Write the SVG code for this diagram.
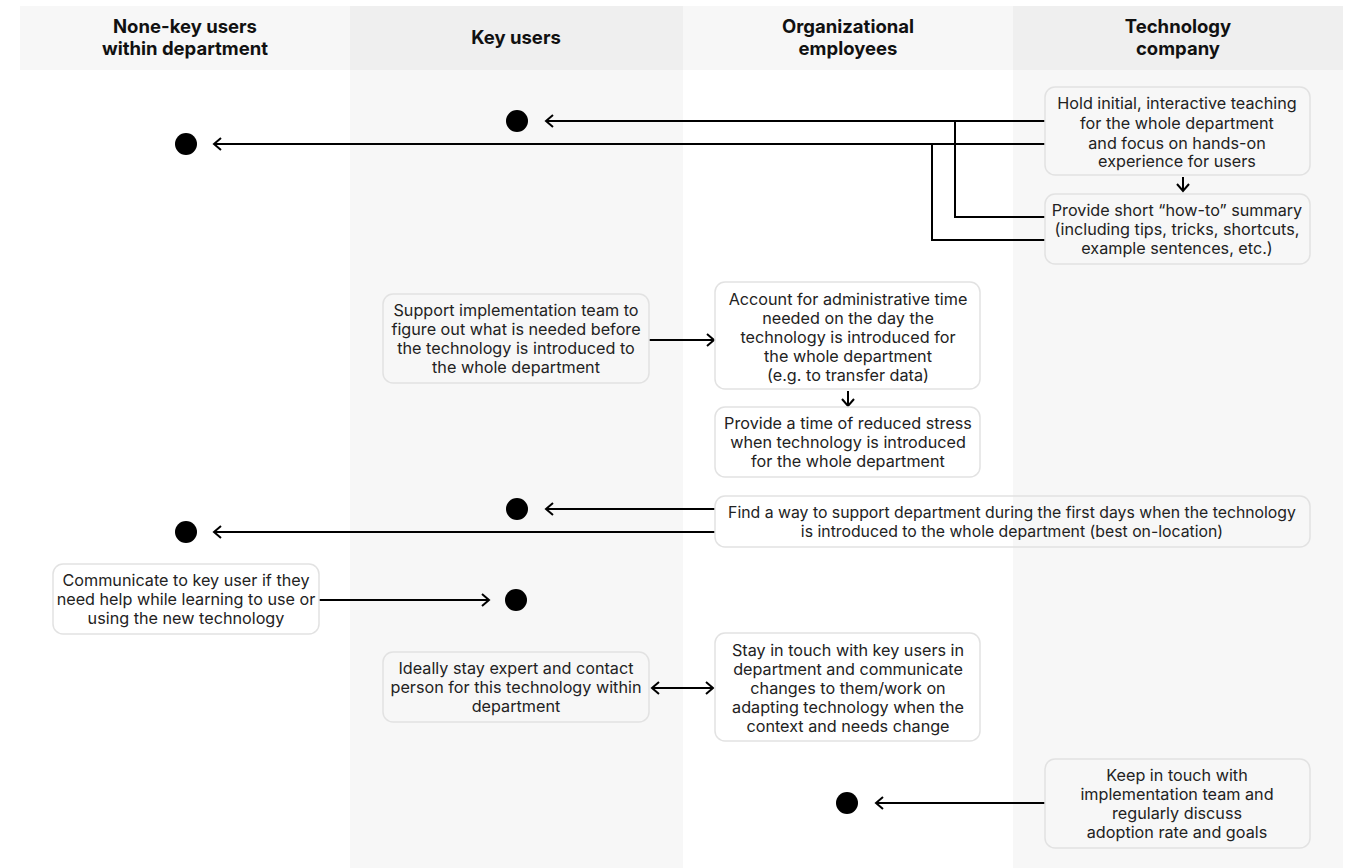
<svg xmlns="http://www.w3.org/2000/svg" width="1353" height="868" viewBox="0 0 1353 868">
<defs>
<style>
.hd{font-family:Inter,"Liberation Sans",sans-serif;font-weight:700;font-size:18.5px;fill:#111;text-anchor:middle}
.t{font-family:Inter,"Liberation Sans",sans-serif;font-size:16.2px;fill:#222;text-anchor:middle}
.w{font-size:15.8px}
.box{fill:none;stroke:#e2e2e2;stroke-width:1.5}
.c{fill:none;stroke:#000;stroke-width:2}
.dot{fill:#000}
</style>
<marker id="ah" viewBox="-10 -8 20 16" markerWidth="20" markerHeight="16" markerUnits="userSpaceOnUse" refX="0" refY="0" orient="auto-start-reverse">
<path d="M-7,-6 L0,0 L-7,6" fill="none" stroke="#000" stroke-width="2"/>
</marker>
</defs>
<rect x="0" y="0" width="1353" height="868" fill="#fff"/>
<g id="lanes">
<rect x="350" y="70" width="333" height="798" fill="#f7f7f7"/>
<rect x="1013" y="70" width="330" height="798" fill="#f7f7f7"/>
<rect x="20" y="6" width="330" height="64" fill="#f7f7f7"/>
<rect x="350" y="6" width="333" height="64" fill="#efefef"/>
<rect x="683" y="6" width="330" height="64" fill="#f7f7f7"/>
<rect x="1013" y="6" width="330" height="64" fill="#efefef"/>
<text class="hd" x="185" y="33">None-key users</text>
<text class="hd" x="185" y="55">within department</text>
<text class="hd" x="516" y="44">Key users</text>
<text class="hd" x="848" y="33">Organizational</text>
<text class="hd" x="848" y="55">employees</text>
<text class="hd" x="1178" y="33">Technology</text>
<text class="hd" x="1178" y="55">company</text>
</g>
<g id="connectors">
<path class="c" d="M1045,121 H546" marker-end="url(#ah)"/>
<path class="c" d="M1045,144 H214" marker-end="url(#ah)"/>
<path class="c" d="M1045,217 H955 V121"/>
<path class="c" d="M1045,240 H932 V144"/>
<path class="c" d="M1183,177 V191" marker-end="url(#ah)"/>
<path class="c" d="M649,340 H714" marker-end="url(#ah)"/>
<path class="c" d="M848,391 V406" marker-end="url(#ah)"/>
<path class="c" d="M715,509 H546" marker-end="url(#ah)"/>
<path class="c" d="M715,532 H214" marker-end="url(#ah)"/>
<path class="c" d="M319,600 H489" marker-end="url(#ah)"/>
<path class="c" d="M652,688 H713" marker-start="url(#ah)" marker-end="url(#ah)"/>
<path class="c" d="M1045,803 H876" marker-end="url(#ah)"/>
</g>
<g id="dot1"><circle class="dot" cx="517" cy="121" r="11"/></g>
<g id="dot2"><circle class="dot" cx="186" cy="144" r="11"/></g>
<g id="dot3"><circle class="dot" cx="517" cy="509" r="11"/></g>
<g id="dot4"><circle class="dot" cx="186" cy="532" r="11"/></g>
<g id="dot5"><circle class="dot" cx="516" cy="600" r="11"/></g>
<g id="dot6"><circle class="dot" cx="847" cy="803" r="11"/></g>
<g id="n-hold">
<rect class="box" x="1045" y="87" width="265" height="88" rx="10"/>
<text class="t" x="1177" y="109">Hold initial, interactive teaching</text>
<text class="t" x="1177" y="129">for the whole department</text>
<text class="t" x="1177" y="149">and focus on hands-on</text>
<text class="t" x="1177" y="167">experience for users</text>
</g>
<g id="n-howto">
<rect class="box" x="1045" y="194" width="265" height="70" rx="10"/>
<text class="t" x="1177" y="216">Provide short “how-to” summary</text>
<text class="t" x="1177" y="235">(including tips, tricks, shortcuts,</text>
<text class="t" x="1177" y="254">example sentences, etc.)</text>
</g>
<g id="n-support">
<rect class="box" x="383" y="294" width="266" height="89" rx="10"/>
<text class="t" x="516" y="316">Support implementation team to</text>
<text class="t" x="516" y="335">figure out what is needed before</text>
<text class="t" x="516" y="354">the technology is introduced to</text>
<text class="t" x="516" y="373">the whole department</text>
</g>
<g id="n-account">
<rect class="box" x="715" y="282" width="265" height="107" rx="10"/>
<text class="t" x="848" y="305">Account for administrative time</text>
<text class="t" x="848" y="324">needed on the day the</text>
<text class="t" x="848" y="343">technology is introduced for</text>
<text class="t" x="848" y="362">the whole department</text>
<text class="t" x="848" y="381">(e.g. to transfer data)</text>
</g>
<g id="n-stress">
<rect class="box" x="715" y="407" width="265" height="70" rx="10"/>
<text class="t" x="848" y="429">Provide a time of reduced stress</text>
<text class="t" x="848" y="448">when technology is introduced</text>
<text class="t" x="848" y="467">for the whole department</text>
</g>
<g id="n-firstdays">
<rect class="box" x="715" y="496" width="595" height="51" rx="10"/>
<text class="t w" x="1012" y="518">Find a way to support department during the first days when the technology</text>
<text class="t w" x="1012" y="537">is introduced to the whole department (best on-location)</text>
</g>
<g id="n-communicate">
<rect class="box" x="53" y="564" width="266" height="70" rx="10"/>
<text class="t" x="186" y="586">Communicate to key user if they</text>
<text class="t" x="186" y="605">need help while learning to use or</text>
<text class="t" x="186" y="624">using the new technology</text>
</g>
<g id="n-expert">
<rect class="box" x="383" y="652" width="266" height="70" rx="10"/>
<text class="t" x="516" y="674">Ideally stay expert and contact</text>
<text class="t" x="516" y="693">person for this technology within</text>
<text class="t" x="516" y="712">department</text>
</g>
<g id="n-touch">
<rect class="box" x="715" y="633" width="265" height="108" rx="10"/>
<text class="t" x="848" y="656">Stay in touch with key users in</text>
<text class="t" x="848" y="675">department and communicate</text>
<text class="t" x="848" y="694">changes to them/work on</text>
<text class="t" x="848" y="713">adapting technology when the</text>
<text class="t" x="848" y="732">context and needs change</text>
</g>
<g id="n-keep">
<rect class="box" x="1045" y="759" width="265" height="89" rx="10"/>
<text class="t" x="1177" y="781">Keep in touch with</text>
<text class="t" x="1177" y="800">implementation team and</text>
<text class="t" x="1177" y="819">regularly discuss</text>
<text class="t" x="1177" y="838">adoption rate and goals</text>
</g>
</svg>
